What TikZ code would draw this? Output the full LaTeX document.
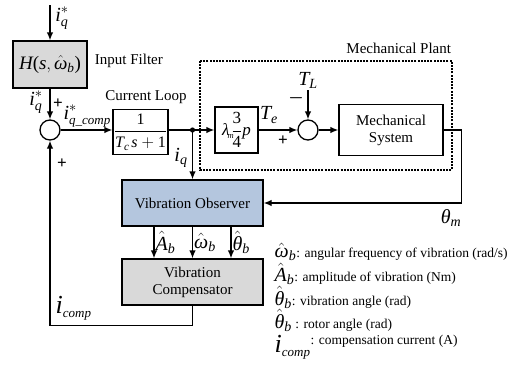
\documentclass[tikz,border=0pt]{standalone}
\usepackage{amsmath}
\usepackage{fontspec}
\setmainfont{Liberation Serif}
\usetikzlibrary{arrows.meta}
\definecolor{obsblue}{RGB}{180,198,222}
\newcommand{\symsize}{\fontsize{20}{22}\selectfont}
\newcommand{\vi}[1]{\textit{#1}}
\newcommand{\vu}[1]{\textup{#1}}
\newcommand{\smallsub}[1]{\text{\fontsize{13}{13}\selectfont\itshape #1}}
\begin{document}
\begin{tikzpicture}[x=1pt, y=-1pt, >={Latex[length=8pt,width=6.5pt]}, line width=1.3pt,
  blk/.style={draw, rectangle, inner sep=0pt, align=center, font=\fontsize{15}{17}\selectfont},
  sum/.style={draw, circle, minimum size=20pt, inner sep=0pt},
  lbl/.style={font=\fontsize{15}{17}\selectfont},
  sym/.style={font=\symsize},
  sgn/.style={font=\bfseries\fontsize{17}{17}\selectfont},
  leg/.style={anchor=west, inner sep=0pt, font=\fontsize{13.5}{15}\selectfont}]
  \useasboundingbox (0,0) rectangle (516,378);
  % main path
  \coordinate (in) at (50,5);
  \node[blk, fill=black!15, minimum width=74pt, minimum height=47pt] (filter) at (50,64.5) {\fontsize{19}{21}\selectfont $\vi{H}\vu{(}\vi{s},\hat{\vi{ω}}_{\vi{b}}\vu{)}$};
  \node[sum] (s1) at (50,130) {};
  \node[blk, minimum width=55pt, minimum height=45pt] (cl) at (140.5,132) {\fontsize{16}{18}\selectfont $\dfrac{\vu{1}}{\vi{T}_{\vi{c}}\mskip2mu\vi{s}+\vu{1}}$};
  \coordinate (br) at (192.5,130);
  \node[blk, minimum width=43pt, minimum height=46pt] (gain) at (236.5,130) {\fontsize{17}{19}\selectfont $\vi{λ}_{\!\scriptscriptstyle\vi{m}}\!\dfrac{\vu{3}}{\vu{4}}\vi{p}$};
  \node[sum] (s2) at (308,130) {};
  \node[blk, minimum width=104pt, minimum height=51pt] (mech) at (391,130) {Mechanical\\System};
  \coordinate (tl) at (308,90);
  \node[blk, fill=obsblue, minimum width=141pt, minimum height=46pt] (obs) at (192.5,203) {Vibration Observer};
  \node[blk, fill=black!15, minimum width=141pt, minimum height=46pt] (comp) at (192.5,282) {Vibration\\Compensator};
  % plant
  \draw[line width=2.2pt, dash pattern=on 2pt off 1.2pt] (200,61) rectangle (452,170);
  \node[lbl, anchor=south east] (plant) at (455,58) {Mechanical Plant};
  % connectors
  \draw[->] (in) -- (filter);
  \draw[->] (filter) -- (s1);
  \draw[->] (s1) -- (cl.west |- s1);
  \draw (cl.east |- br) -- (br);
  \draw[->] (br) -- (gain);
  \draw[->] (gain) -- (s2);
  \draw[->] (s2) -- (mech);
  \draw[->] (tl) -- (s2);
  \fill (br) circle (2.6pt);
  \draw[->] (br) -- (obs);
  \draw[->] (mech.east) -- ++(18,0) |- (obs.east);
  \draw[->] ([xshift=-38.5pt]obs.south) -- node[sym, right, inner sep=1pt] {$\hat{\vi{A}}_{\vi{b}}$} ([xshift=-38.5pt]comp.north);
  \draw[->] (obs.south) -- node[sym, right, inner sep=1pt] {$\hat{\vi{ω}}_{\vi{b}}$} (comp.north);
  \draw[->] ([xshift=38.5pt]obs.south) -- node[sym, right, inner sep=1pt] {$\hat{\vi{θ}}_{\vi{b}}$} ([xshift=38.5pt]comp.north);
  \draw[->] (comp.south) -- ++(0,20) -| (s1.south);
  % labels
  \node[sym] (iqin) at (62,18) {$\vi{i}_{\vi{q}}^{*}$};
  \node[lbl, anchor=west] (iftxt) at (91,61) {Input Filter};
  \node[sym] (iqf) at (36,102) {$\vi{i}_{\vi{q}}^{*}$};
  \node[sgn] (p1) at (58,104) {+};
  \node[sym, anchor=west, inner sep=0pt] (iqc) at (63,116) {$\vi{i}^{*}_{\smallsub{q\_comp}}$};
  \node[lbl] (cltxt) at (146,97) {Current Loop};
  \node[sgn] (p2) at (62,164) {+};
  \node[sym] (iqo) at (181,158) {$\vi{i}_{\vi{q}}$};
  \node[sym] (te) at (269,115) {$\vi{T}_{\vi{e}}$};
  \node[sgn] (p3) at (283,141) {+};
  \node[sgn] (m1) at (296,98) {$\boldsymbol{-}$};
  \node[sym, anchor=south, inner sep=1pt] (tllbl) at (tl) {$\vi{T}_{\vi{L}}$};
  \node[sym] (thm) at (451,218) {$\vi{θ}_{\vi{m}}$};
  \node[font=\fontsize{26}{28}\selectfont, anchor=west, inner sep=0pt] (icl) at (55,308) {$\vi{i}_{\smallsub{comp}}$};
  % legend
  \node[leg] (l1) at (274,252) {{\symsize$\hat{\vi{ω}}_{\vi{b}}$}: angular frequency of vibration (rad/s)};
  \node[leg] (l2) at (274,274) {{\symsize$\hat{\vi{A}}_{\vi{b}}$}: amplitude of vibration (Nm)};
  \node[leg] (l3) at (274,297) {{\symsize$\hat{\vi{θ}}_{\vi{b}}$}: vibration angle (rad)};
  \node[leg] (l4) at (274,320) {{\symsize$\hat{\vi{θ}}_{\vi{b}}$} : rotor angle (rad)};
  \node[leg] (l5) at (274,347) {{\fontsize{26}{28}\selectfont$\vi{i}_{\smallsub{comp}}$}\raisebox{8pt}{: compensation current (A)}};
\end{tikzpicture}
\end{document}
